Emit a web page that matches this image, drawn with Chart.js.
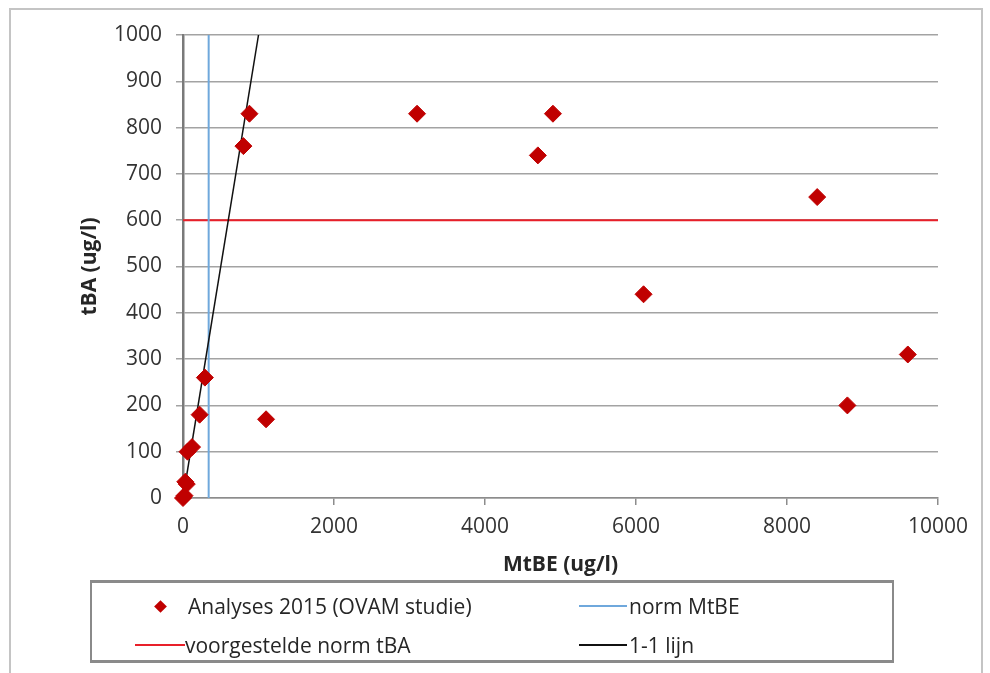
<!DOCTYPE html>
<html>
<head>
<meta charset="utf-8">
<script src="https://cdn.jsdelivr.net/npm/chart.js@4.4.1/dist/chart.umd.min.js"></script>
<style>
  body { margin: 0; background: #fff; font-family: 'Open Sans', sans-serif; }
  #frame { position: absolute; left: 9px; top: 8px; width: 970px; height: 700px; border: 2px solid #c4c4c4; }
  #wrap { position: absolute; left: 0; top: 0; width: 990px; height: 673px; }
  #legend { position: absolute; left: 90px; top: 580px; width: 804px; height: 83px; box-sizing: border-box;
            border: 3px solid #8a8a8a; border-left-width: 2px; border-right-width: 2px; font-size: 21px; color: #262626; }
  .item { position: absolute; height: 26px; line-height: 26px; white-space: nowrap; }
  .item span { position: absolute; top: 0; }
  .mk { position: absolute; top: 13px; height: 0; }
  .dia { position: absolute; width: 9px; height: 9px; transform: rotate(45deg); }
</style>
</head>
<body>
<div id="frame"></div>
<div id="wrap"><canvas id="myChart" width="990" height="673"></canvas></div>
<div id="legend"></div>
<script>
// MtBE (x) and tBA (y) of the 2015 analyses, ug/l
const mtbe = [0, 20, 30, 50, 60, 120, 220, 290, 800, 880, 1100, 3100, 4700, 4900, 6100, 8400, 8800, 9600];
const tba  = [0, 5, 35, 30, 100, 110, 180, 260, 760, 830, 170, 830, 740, 830, 440, 650, 200, 310];

const normMtbe = 340;   // vertical norm line
const normTba = 600;    // proposed tBA norm
const xLimits = [0, 10000];
const yLimits = [0, 1000];
const xStep = 2000;
const yStep = 100;

const labels = ['Analyses 2015 (OVAM studie)', 'norm MtBE', 'voorgestelde norm tBA', '1-1 lijn'];
const colors = ['#c00000', '#6fa8dc', '#e8202a', '#111111'];

const datasets = [
  {
    label: labels[0],
    data: mtbe.map((x, i) => ({ x, y: tba[i] })),
    pointStyle: 'rectRot',
    pointRadius: 8.5,
    backgroundColor: colors[0],
    borderColor: colors[0],
    borderWidth: 1,
    showLine: false,
    clip: false,
    order: 0
  },
  {
    label: labels[1],
    data: [{ x: normMtbe, y: yLimits[0] }, { x: normMtbe, y: yLimits[1] }],
    borderColor: colors[1],
    borderWidth: 2,
    showLine: true,
    pointRadius: 0,
    order: 2
  },
  {
    label: labels[2],
    data: [{ x: xLimits[0], y: normTba }, { x: xLimits[1], y: normTba }],
    borderColor: colors[2],
    borderWidth: 2,
    showLine: true,
    pointRadius: 0,
    order: 2
  },
  {
    label: labels[3],
    data: [{ x: 0, y: 0 }, { x: yLimits[1], y: yLimits[1] }],
    borderColor: colors[3],
    borderWidth: 1.5,
    showLine: true,
    pointRadius: 0,
    order: 1
  }
];

const tickFont = { family: "'Open Sans', sans-serif", size: 21 };
const titleFont = { family: "'Open Sans', sans-serif", size: 21, weight: 'bold' };
const plain = (v) => String(v);   // no thousands separator, like the original

const chart = new Chart(document.getElementById('myChart'), {
  type: 'scatter',
  data: { datasets },
  options: {
    responsive: false,
    animation: false,
    layout: { padding: { left: 75, right: 52, top: 35, bottom: 95 } },
    plugins: { legend: { display: false }, tooltip: { enabled: false } },
    scales: {
      x: {
        type: 'linear',
        min: xLimits[0],
        max: xLimits[1],
        ticks: { stepSize: xStep, font: tickFont, color: '#333', padding: 9, maxRotation: 0, callback: plain },
        grid: { drawOnChartArea: false, tickLength: 7, color: '#8c8c8c', lineWidth: 1.5 },
        border: { color: '#8c8c8c', width: 1.5 },
        title: { display: true, text: 'MtBE (ug/l)', font: titleFont, color: '#262626', padding: { top: 2, bottom: 0 } },
        afterFit: (s) => { s.height = 80; }
      },
      y: {
        type: 'linear',
        min: yLimits[0],
        max: yLimits[1],
        ticks: { stepSize: yStep, font: tickFont, color: '#333', padding: 14, callback: plain },
        grid: { color: '#a3a3a3', lineWidth: 1.5, tickLength: 7 },
        border: { color: '#7a7a7a', width: 2.5 },
        title: { display: true, text: 'tBA (ug/l)', font: titleFont, color: '#262626', padding: { top: 2, bottom: 0 } },
        afterFit: (s) => { s.width = 108; }
      }
    }
  }
});

// legend in the Excel 2x2 layout, from the chart's own datasets
const legendSlots = [
  { top: 10, mk: [43, 93], text: 96 },
  { top: 10, mk: [487, 535], text: 537 },
  { top: 49, mk: [43, 93], text: 93 },
  { top: 49, mk: [487, 535], text: 537 }
];
const legendEl = document.getElementById('legend');
chart.data.datasets.forEach((ds, i) => {
  const slot = legendSlots[i];
  const item = document.createElement('div');
  item.className = 'item';
  item.style.left = '0px';
  item.style.top = slot.top + 'px';
  const mk = document.createElement('div');
  mk.className = 'mk';
  mk.style.left = slot.mk[0] + 'px';
  mk.style.width = (slot.mk[1] - slot.mk[0]) + 'px';
  if (ds.pointStyle === 'rectRot') {
    const d = document.createElement('div');
    d.className = 'dia';
    d.style.background = ds.backgroundColor;
    d.style.left = ((slot.mk[1] - slot.mk[0]) / 2 - 4.5) + 'px';
    d.style.top = '-4.5px';
    mk.appendChild(d);
  } else {
    mk.style.borderTop = '2px solid ' + ds.borderColor;
    mk.style.top = '12px';
  }
  const t = document.createElement('span');
  t.style.left = slot.text + 'px';
  t.textContent = ds.label;
  item.appendChild(mk);
  item.appendChild(t);
  legendEl.appendChild(item);
});
</script>
</body>
</html>
